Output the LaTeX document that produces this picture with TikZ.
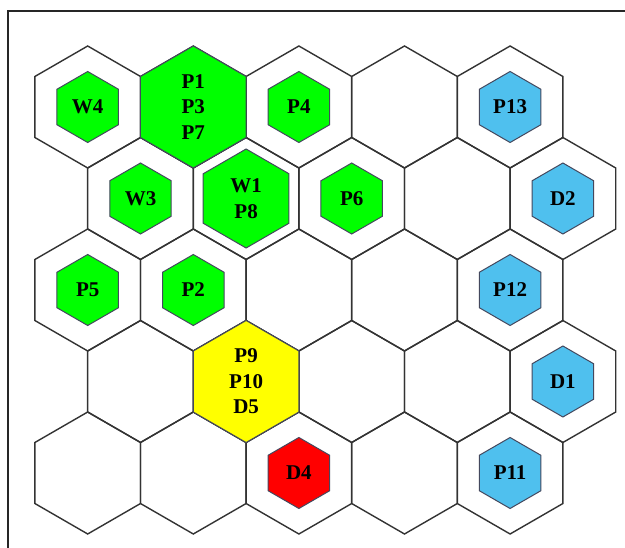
\documentclass[tikz,border=0pt]{standalone}
\usepackage{fontspec}
\setmainfont{Liberation Serif}
\usetikzlibrary{shapes.geometric}
\definecolor{hexline}{HTML}{333333}
\definecolor{innerline}{HTML}{44485E}
\definecolor{hgreen}{HTML}{00FF00}
\definecolor{hblue}{HTML}{4FC0EE}
\definecolor{hred}{HTML}{FF0000}
\definecolor{hyellow}{HTML}{FFFF00}
\tikzset{
  hexbase/.style={regular polygon, regular polygon sides=6, shape border rotate=30, inner sep=0pt, outer sep=0pt, align=center,
    font=\fontsize{21}{25.5}\selectfont\bfseries},
  cell/.style={hexbase, draw=hexline, line width=1.4pt, minimum size=122pt},
  full/.style={hexbase, draw=innerline, line width=1pt, minimum size=122pt, fill=#1},
  mid/.style={hexbase, draw=innerline, line width=1pt, minimum size=99pt, fill=#1},
  small/.style={hexbase, draw=innerline, line width=1pt, minimum size=71pt, fill=#1},
}
\begin{document}
\begin{tikzpicture}[x=1pt,y=-1pt]
\useasboundingbox (0,0) rectangle (625,548);
\fill[white] (0,0) rectangle (625,548);
\draw[line width=1.5pt, color=black!85] (8,548) -- (8,11) -- (625,11);
% outer grid cells
\foreach \r in {0,...,4}{
  \foreach \c in {0,...,4}{
    \pgfmathsetmacro{\cx}{87.7+105.6*\c+52.8*mod(\r,2)}
    \pgfmathsetmacro{\cy}{107+91.5*\r}
    \node[cell] (cell\r\c) at (\cx,\cy) {};
  }
}
% row 0
\node[small=hgreen] (w4) at (cell00) {W4};
\node[full=hgreen] (p137) at (cell01) {P1\\P3\\P7};
\node[small=hgreen] (p4) at (cell02) {P4};
\node[small=hblue] (p13) at (cell04) {P13};
% row 1
\node[small=hgreen] (w3) at (cell10) {W3};
\node[mid=hgreen] (w1p8) at (cell11) {W1\\P8};
\node[small=hgreen] (p6) at (cell12) {P6};
\node[small=hblue] (d2) at (cell14) {D2};
% row 2
\node[small=hgreen] (p5) at (cell20) {P5};
\node[small=hgreen] (p2) at (cell21) {P2};
\node[small=hblue] (p12) at (cell24) {P12};
% row 3
\node[full=hyellow] (p9) at (cell31) {P9\\P10\\D5};
\node[small=hblue] (d1) at (cell34) {D1};
% row 4
\node[small=hred] (d4) at (cell42) {D4};
\node[small=hblue] (p11) at (cell44) {P11};
\end{tikzpicture}
\end{document}
